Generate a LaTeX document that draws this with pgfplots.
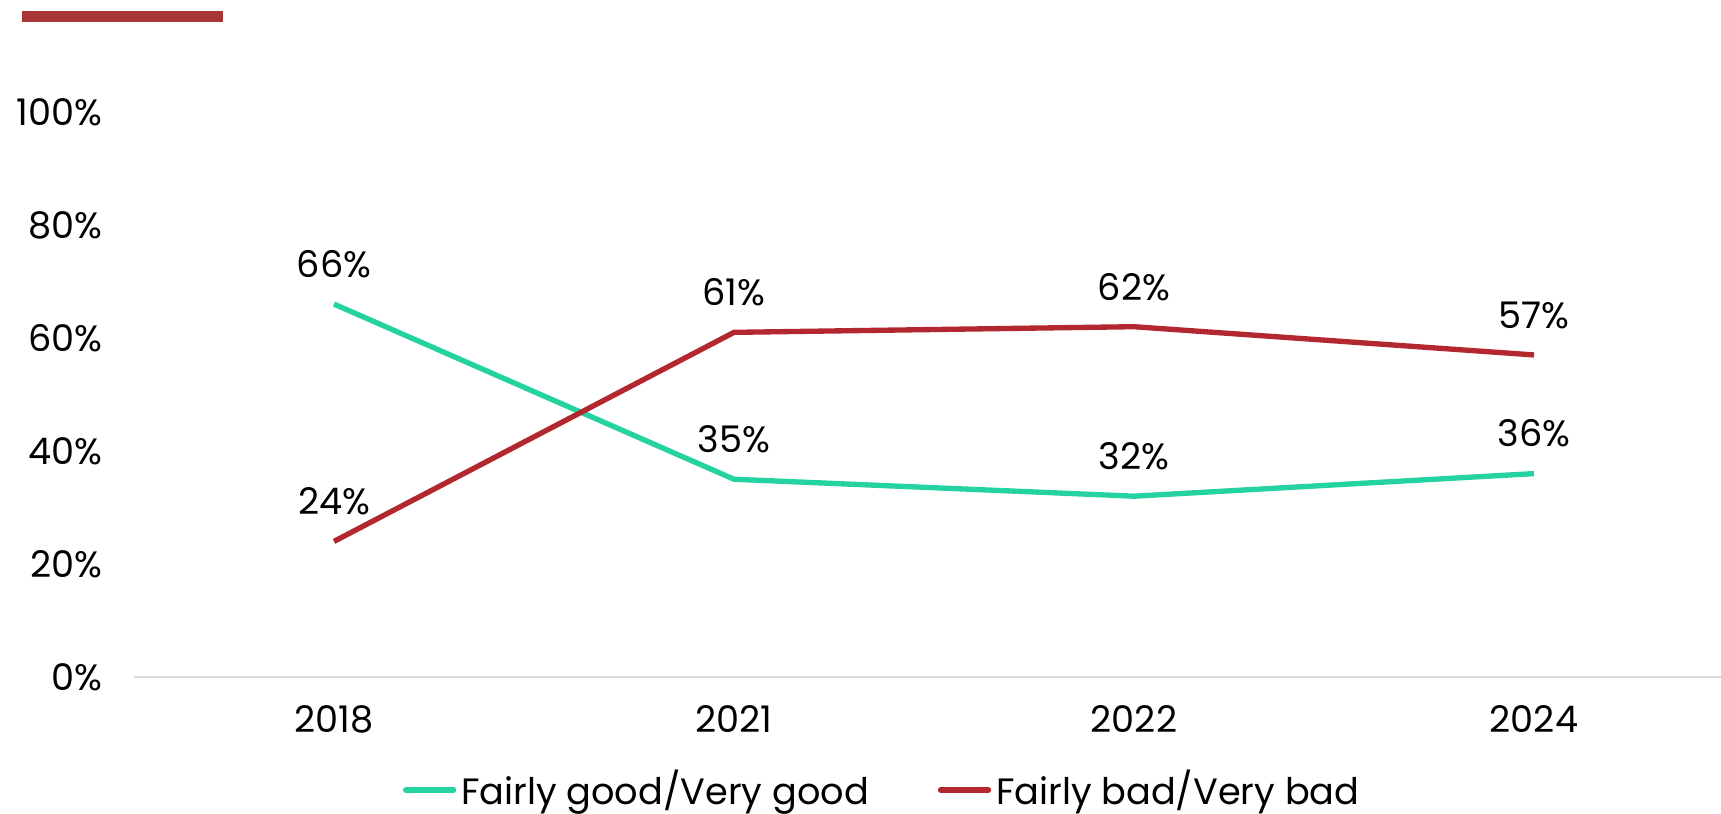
\documentclass[border=0pt]{standalone}
\usepackage{fontspec}
\setmainfont{Poppins}
\usepackage{pgfplots}
\pgfplotsset{compat=1.18}
\definecolor{goodgreen}{HTML}{25D3A0}
\definecolor{badred}{HTML}{B3282F}
\definecolor{topbar}{HTML}{A83636}
\definecolor{baseline}{HTML}{D9D9D9}

\begin{document}
\begin{tikzpicture}[font=\fontsize{11}{13}\selectfont]
\path[use as bounding box] (0,0) rectangle (516.3pt,243.9pt);
\fill[topbar] (6.6pt,237.3pt) rectangle (66.9pt,240.6pt);
\begin{axis}[
    at={(40.2pt,40.8pt)}, anchor=south west,
    scale only axis,
    width=480pt, height=169.5pt,
    xmin=-0.5, xmax=3.5,
    ymin=0, ymax=100,
    xtick={0,1,2,3},
    xticklabels={2018,2021,2022,2024},
    ytick={0,20,40,60,80,100},
    yticklabel={\pgfmathprintnumber{\tick}\%},
    /pgf/number format/assume math mode=true,
    axis x line*=bottom,
    axis y line*=left,
    x axis line style={draw=baseline, line width=0.6pt, -},
    y axis line style={draw=none},
    tick style={draw=none},
    yticklabel style={anchor=east, xshift=-6pt},
    xticklabel style={yshift=-5pt},
    clip=false,
    every axis plot/.append style={line width=1.6pt},
    nodes near coords={\pgfmathprintnumber{\pgfplotspointmeta}\%},
    every node near coord/.append style={anchor=center, yshift=12pt, text=black},
    legend style={draw=none, at={(0.467,-0.20)}, anchor=center,
        inner sep=0pt, outer sep=0pt,
        nodes={inner sep=0pt},
        legend columns=2, column sep=1.5pt,
        /tikz/every even column/.append style={column sep=20.7pt}},
    legend cell align=left,
    legend image code/.code={\draw[#1, line width=1.8pt, line cap=round] (0.9pt,0pt) -- (15.1pt,0pt);},
]
\addplot[goodgreen] coordinates {(0,66) (1,35) (2,32) (3,36)};
\addlegendentry{Fairly good/Very good}
\addplot[badred] coordinates {(0,24) (1,61) (2,62) (3,57)};
\addlegendentry{Fairly bad/Very bad}
\end{axis}
\end{tikzpicture}
\end{document}
